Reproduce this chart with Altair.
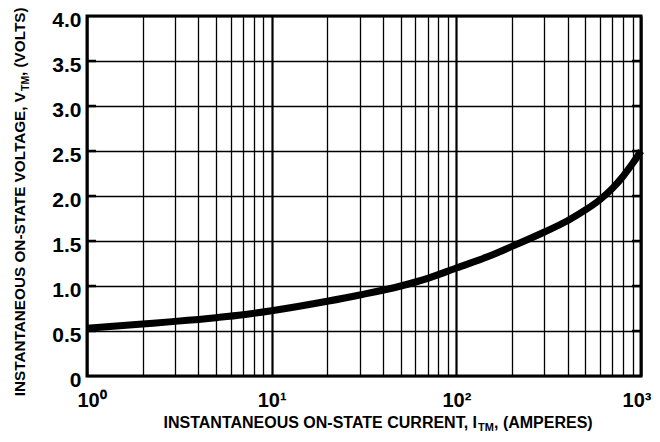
import altair as alt
import pandas as pd

# Data
current_a = [1, 2, 3, 5, 7, 10, 20, 30, 50, 70, 100, 150, 200, 300, 400, 500, 600, 700, 800, 900, 1000]
voltage_v = [0.53, 0.578, 0.607, 0.648, 0.68, 0.725, 0.83, 0.9, 1.0, 1.085, 1.2, 1.33, 1.44, 1.6, 1.725, 1.845, 1.96, 2.085, 2.22, 2.36, 2.5]

x_grid = [1, 2, 3, 4, 5, 6, 7, 8, 9, 10, 20, 30, 40, 50, 60, 70, 80, 90,
          100, 200, 300, 400, 500, 600, 700, 800, 900, 1000]
y_ticks = [0, 0.5, 1.0, 1.5, 2.0, 2.5, 3.0, 3.5, 4.0]
edge_ticks = [0.5, 1.0, 1.5, 2.0, 2.5, 3.0, 3.5]

W, H = 554, 360
FONT = "Liberation Sans"

df = pd.DataFrame({"I": current_a, "V": voltage_v})
tick_df = pd.DataFrame({"V": edge_ticks})

xs = alt.Scale(type="log", domain=[1, 1000], nice=False)
ys = alt.Scale(domain=[0, 4], nice=False)

x_axis = alt.Axis(
    values=x_grid,
    labelExpr="datum.value == 1 ? '10\u2070' : datum.value == 10 ? '10\u00b9' : datum.value == 100 ? '10\u00b2' : datum.value == 1000 ? '10\u00b3' : ''",
    grid=True, gridColor="black", gridOpacity=1,
    gridWidth={"condition": {"test": "datum.value == 1 || datum.value == 10 || datum.value == 100 || datum.value == 1000", "value": 2.2}, "value": 1.3},
    ticks=False, domain=False,
    labelFont=FONT, labelFontSize=20, labelFontWeight="bold", labelColor="black",
    labelPadding=14, labelFlush=True, labelFlushOffset=10, labelOverlap=False, title=None,
)
y_axis = alt.Axis(
    values=y_ticks,
    labelExpr="datum.value == 0 ? '0' : format(datum.value, '.1f')",
    grid=True, gridColor="black", gridOpacity=1, gridWidth=1.3,
    ticks=False, domain=False,
    labelFont=FONT, labelFontSize=21, labelFontWeight="bold", labelColor="black",
    labelPadding=6, labelOffset=4, labelFlush=False, labelOverlap=False, title=None,
)

curve = alt.Chart(df).mark_line(color="black", strokeWidth=7, interpolate="monotone").encode(
    x=alt.X("I:Q", scale=xs, axis=x_axis),
    y=alt.Y("V:Q", scale=ys, axis=y_axis),
)

left_ticks = alt.Chart(tick_df).mark_rule(color="black", strokeWidth=2.5).encode(
    y=alt.Y("V:Q", scale=ys), x=alt.value(0), x2=alt.value(9)
)
right_ticks = alt.Chart(tick_df).mark_rule(color="black", strokeWidth=2.5).encode(
    y=alt.Y("V:Q", scale=ys), x=alt.value(W - 9), x2=alt.value(W)
)

one = alt.Data(values=[{"a": 1}])

def txt(s, x, y, size, align, angle=0):
    return alt.Chart(one).mark_text(
        text=s, font=FONT, fontSize=size, fontWeight="bold", color="black",
        align=align, baseline="alphabetic", angle=angle
    ).encode(x=alt.value(x), y=alt.value(y))

# x-axis title pieces
xt1 = txt("INSTANTANEOUS ON-STATE CURRENT, I", 390, 412, 16, "right")
xt2 = txt("TM", 391, 415, 11, "left")
xt3 = txt(", (AMPERES)", 407, 412, 16, "left")

# y-axis title pieces (rotated)
yt1 = txt("INSTANTANEOUS ON-STATE VOLTAGE, V", -62, 76, 15.3, "right", 270)
yt2 = txt("TM", -58, 75, 10.5, "left", 270)
yt3 = txt(", (VOLTS)", -62, 60, 15.3, "left", 270)

chart = alt.layer(
    curve, left_ticks, right_ticks, xt1, xt2, xt3, yt1, yt2, yt3
).properties(
    width=W, height=H,
    autosize=alt.AutoSizeParams(type="none"),
    padding={"left": 79, "top": 8, "right": 11, "bottom": 58},
    background="white",
).configure_view(stroke="black", strokeWidth=3)

chart.save("out.html", embed_options={"renderer": "svg", "actions": False})
